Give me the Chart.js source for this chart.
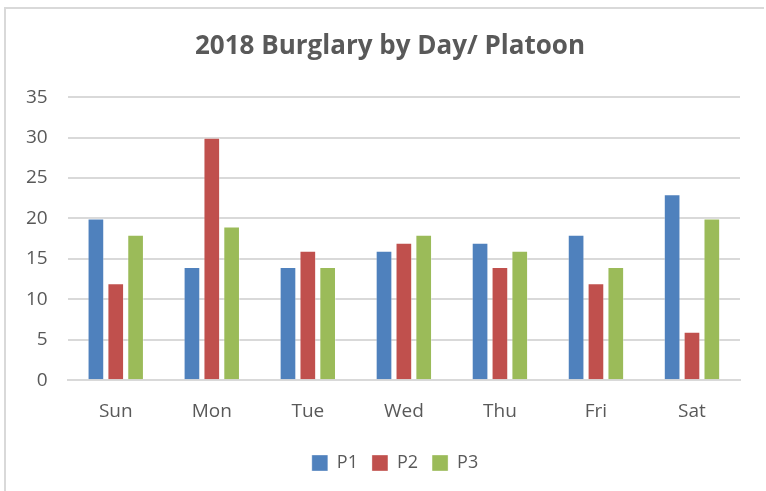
<!DOCTYPE html>
<html>
<head>
<meta charset="utf-8">
<script src="https://cdn.jsdelivr.net/npm/chart.js@4/dist/chart.umd.min.js"></script>
<style>
  body { margin: 0; background: #fff; }
  .frame { position: absolute; left: 4px; top: 7px; width: 760px; height: 484px; border: 2px solid #d9d9d9; border-right: none; border-bottom: none; box-sizing: border-box; }
  .wrap { position: absolute; left: 0; top: 0; width: 766px; height: 491px; }
</style>
</head>
<body>
<div class="frame"></div>
<div class="wrap"><canvas class="burglary-chart"></canvas></div>
<script>
// 2018 burglary counts per weekday, split by platoon
const days = ["Sun", "Mon", "Tue", "Wed", "Thu", "Fri", "Sat"];
const p1 = [20, 14, 14, 16, 17, 18, 23];
const p2 = [12, 30, 16, 17, 14, 12, 6];
const p3 = [18, 19, 14, 18, 16, 14, 20];
const yTicks = [0, 5, 10, 15, 20, 25, 30, 35];

document.addEventListener("DOMContentLoaded", () => {
  const ctx = document.querySelector(".burglary-chart").getContext("2d");
  const font = "'Open Sans', 'Liberation Sans', sans-serif";
  const grey = "#595959";

  // nudge title and legend to the right so they sit over the plot like Excel does
  const nudge = {
    id: "nudge",
    afterLayout(chart) {
      if (chart.titleBlock) chart.titleBlock.left += 34;
      if (chart.legend) {
        chart.legend.left += 22;
        chart.legend.right += 22;
        chart.legend.top += 5;
        chart.legend.bottom += 5;
      }
    },
  };

  const data = {
    labels: days,
    datasets: [
      { label: "P1", data: p1, backgroundColor: "#4f81bd" },
      { label: "P2", data: p2, backgroundColor: "#c0504d" },
      { label: "P3", data: p3, backgroundColor: "#9bbb59" },
    ],
  };

  const config = {
    type: "bar",
    data: data,
    plugins: [nudge],
    options: {
      responsive: true,
      maintainAspectRatio: false,
      animation: false,
      layout: { padding: { top: 31, left: 6, right: 26, bottom: 14 } },
      datasets: {
        bar: {
          categoryPercentage: 0.62,
          barPercentage: 0.84,
          borderWidth: 1,
          borderColor: "rgba(255,255,255,0.35)",
        },
      },
      plugins: {
        title: {
          display: true,
          text: "2018 Burglary by Day/ Platoon",
          color: grey,
          font: { family: font, size: 26, weight: "bold" },
          padding: { top: 0, bottom: 35 },
        },
        legend: {
          position: "bottom",
          labels: {
            color: grey,
            font: { family: font, size: 18 },
            boxWidth: 16,
            boxHeight: 16,
            padding: 14,
          },
        },
        tooltip: { enabled: false },
      },
      scales: {
        x: {
          grid: { display: false },
          border: { color: "#d9d9d9", width: 2 },
          ticks: { color: grey, font: { family: font, size: 19 }, padding: 12 },
        },
        y: {
          min: 0,
          max: 35,
          afterBuildTicks: (axis) => {
            axis.ticks = yTicks.map((v) => ({ value: v }));
          },
          grid: { color: "#d9d9d9", lineWidth: 2, drawTicks: false },
          border: { display: false },
          ticks: { color: grey, font: { family: font, size: 19 }, padding: 20 },
        },
      },
    },
  };

  new Chart(ctx, config);
});
</script>
</body>
</html>
